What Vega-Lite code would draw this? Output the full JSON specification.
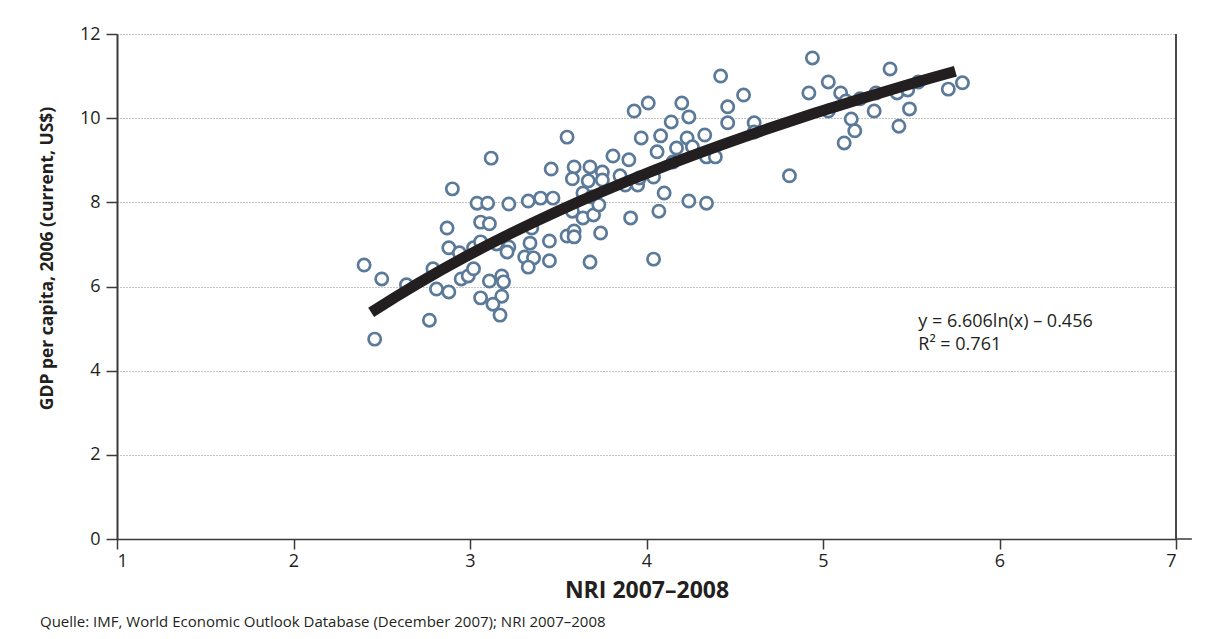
{
  "$schema": "https://vega.github.io/schema/vega-lite/v6.json",
  "width": 1059,
  "height": 505,
  "autosize": {"type": "none"},
  "padding": {"left": 117, "top": 34, "right": 38, "bottom": 100},
  "background": "#ffffff",
  "config": {
    "view": {"stroke": null},
    "font": "Open Sans",
    "axis": {"labelFont": "Open Sans", "titleFont": "Open Sans", "labelColor": "#231f20", "titleColor": "#231f20"}
  },
  "title": {
    "text": "Quelle: IMF, World Economic Outlook Database (December 2007); NRI 2007–2008",
    "orient": "bottom",
    "anchor": "start",
    "frame": "group",
    "dx": -77,
    "offset": 13,
    "fontSize": 15,
    "fontWeight": "normal",
    "color": "#231f20",
    "font": "Open Sans"
  },
  "datasets": {
    "countries": [
      {"x":2.40,"y":6.51},{"x":2.46,"y":4.75},{"x":2.50,"y":6.18},{"x":2.64,"y":6.04},{"x":2.77,"y":5.20},
      {"x":2.79,"y":6.42},{"x":2.81,"y":5.94},{"x":2.87,"y":7.39},{"x":2.88,"y":6.92},{"x":2.88,"y":5.87},
      {"x":2.90,"y":8.32},{"x":2.94,"y":6.80},{"x":2.95,"y":6.18},{"x":2.99,"y":6.25},{"x":3.02,"y":6.42},
      {"x":3.02,"y":6.92},{"x":3.04,"y":7.98},{"x":3.10,"y":7.98},{"x":3.06,"y":7.53},{"x":3.11,"y":7.49},
      {"x":3.06,"y":7.06},{"x":3.15,"y":7.01},{"x":3.06,"y":5.73},{"x":3.11,"y":6.13},{"x":3.18,"y":6.25},
      {"x":3.19,"y":6.11},{"x":3.18,"y":5.77},{"x":3.13,"y":5.58},{"x":3.17,"y":5.32},{"x":3.12,"y":9.05},
      {"x":3.22,"y":6.94},{"x":3.21,"y":6.82},{"x":3.22,"y":7.96},{"x":3.33,"y":8.03},{"x":3.31,"y":6.70},
      {"x":3.36,"y":6.68},{"x":3.33,"y":6.46},{"x":3.34,"y":7.03},{"x":3.35,"y":7.39},{"x":3.40,"y":8.10},
      {"x":3.47,"y":8.10},{"x":3.45,"y":7.08},{"x":3.45,"y":6.61},{"x":3.46,"y":8.79},{"x":3.55,"y":9.55},
      {"x":3.55,"y":7.20},{"x":3.59,"y":7.32},{"x":3.59,"y":7.18},{"x":3.58,"y":7.79},{"x":3.64,"y":7.63},
      {"x":3.70,"y":7.70},{"x":3.64,"y":8.22},{"x":3.69,"y":8.13},{"x":3.73,"y":7.94},{"x":3.74,"y":7.27},
      {"x":3.68,"y":6.58},{"x":3.59,"y":8.84},{"x":3.68,"y":8.84},{"x":3.58,"y":8.56},{"x":3.67,"y":8.51},
      {"x":3.75,"y":8.72},{"x":3.75,"y":8.53},{"x":3.81,"y":9.10},{"x":3.90,"y":9.01},{"x":3.85,"y":8.63},
      {"x":3.88,"y":8.41},{"x":3.95,"y":8.41},{"x":3.96,"y":8.58},{"x":3.91,"y":7.63},{"x":3.93,"y":10.17},
      {"x":4.01,"y":10.36},{"x":3.97,"y":9.53},{"x":4.08,"y":9.58},{"x":4.04,"y":8.60},{"x":4.06,"y":9.20},
      {"x":4.10,"y":8.22},{"x":4.07,"y":7.79},{"x":4.04,"y":6.65},{"x":4.14,"y":9.91},{"x":4.20,"y":10.36},
      {"x":4.24,"y":10.03},{"x":4.23,"y":9.53},{"x":4.17,"y":9.29},{"x":4.26,"y":9.32},{"x":4.15,"y":8.96},
      {"x":4.24,"y":8.03},{"x":4.33,"y":9.60},{"x":4.34,"y":9.08},{"x":4.39,"y":9.08},{"x":4.34,"y":7.98},
      {"x":4.42,"y":11.00},{"x":4.55,"y":10.55},{"x":4.46,"y":10.27},{"x":4.46,"y":9.89},{"x":4.61,"y":9.89},
      {"x":4.61,"y":9.67},{"x":4.81,"y":8.63},{"x":4.94,"y":11.43},{"x":5.03,"y":10.86},{"x":4.92,"y":10.60},
      {"x":5.10,"y":10.60},{"x":5.13,"y":10.41},{"x":5.21,"y":10.46},{"x":5.30,"y":10.60},{"x":5.38,"y":11.17},
      {"x":5.42,"y":10.60},{"x":5.48,"y":10.67},{"x":5.54,"y":10.86},{"x":5.71,"y":10.69},{"x":5.79,"y":10.84},
      {"x":5.03,"y":10.17},{"x":5.29,"y":10.17},{"x":5.49,"y":10.22},{"x":5.16,"y":9.98},{"x":5.18,"y":9.70},
      {"x":5.43,"y":9.81},{"x":5.12,"y":9.41}
    ]
  },
  "encoding": {
    "x": {
      "field": "x", "type": "quantitative",
      "scale": {"domain": [1, 7], "nice": false, "zero": false},
      "axis": {
        "values": [1, 2, 3, 4, 5, 6, 7],
        "grid": false,
        "domainColor": "#3a3a3a", "domainWidth": 1.5,
        "tickColor": "#3a3a3a", "tickWidth": 1.5, "tickSize": 10,
        "labelFontSize": 18, "labelPadding": 3,
        "title": "NRI 2007–2008",
        "titleFontSize": 23, "titleFontWeight": "bold",
        "titleBaseline": "alphabetic", "titleY": 58
      }
    },
    "y": {
      "field": "y", "type": "quantitative",
      "scale": {"domain": [0, 12], "nice": false, "zero": true},
      "axis": {
        "values": [0, 2, 4, 6, 8, 10, 12],
        "grid": true, "gridDash": [1, 2], "gridColor": "#8a8a8a", "gridWidth": 1,
        "domainColor": "#3a3a3a", "domainWidth": 2,
        "tickColor": "#3a3a3a", "tickWidth": 1.5, "tickSize": 11,
        "labelFontSize": 18, "labelPadding": 6,
        "title": "GDP per capita, 2006 (current, US$)",
        "titleFontSize": 17.5, "titleFontWeight": "bold",
        "titleAngle": -90, "titleAlign": "center", "titleBaseline": "middle",
        "titleX": -70, "titleY": 224
      }
    }
  },
  "layer": [
    {
      "data": {"values": [{"x": 7, "y": 0, "y2": 12}]},
      "mark": {"type": "rule", "color": "#4a4a4a", "strokeWidth": 2},
      "encoding": {"y2": {"field": "y2"}}
    },
    {
      "data": {"values": [{"x": 7, "x2": 7.09, "y": 0}]},
      "mark": {"type": "rule", "color": "#3a3a3a", "strokeWidth": 1.5},
      "encoding": {"x2": {"field": "x2"}}
    },
    {
      "data": {"name": "countries"},
      "mark": {"type": "point", "shape": "circle", "filled": false, "fill": "#ffffff", "fillOpacity": 1, "stroke": "#5b7a99", "strokeWidth": 2.7, "size": 150, "opacity": 1},
      "encoding": {}
    },
    {
      "data": {"name": "countries"},
      "transform": [{"regression": "y", "on": "x", "method": "log", "extent": [2.44, 5.75]}],
      "mark": {"type": "line", "color": "#231f20", "strokeWidth": 11, "strokeCap": "butt"},
      "encoding": {}
    },
    {
      "data": {"values": [
        {"x": 5.54, "y": 5.16, "label": "y = 6.606ln(x) – 0.456"},
        {"x": 5.54, "y": 4.60, "label": "R² = 0.761"}
      ]},
      "mark": {"type": "text", "align": "left", "baseline": "middle", "fontSize": 18, "font": "Open Sans", "color": "#231f20"},
      "encoding": {"text": {"field": "label"}}
    }
  ]
}
